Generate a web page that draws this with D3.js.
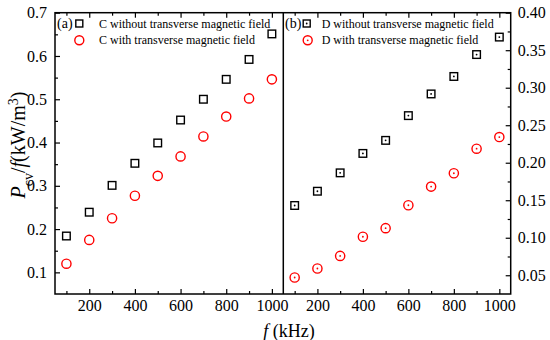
<!DOCTYPE html>
<html>
<head>
<meta charset="utf-8">
<script src="https://cdn.jsdelivr.net/npm/d3@7"></script>
<style>
  html, body { margin: 0; padding: 0; background: #fff; }
  svg { display: block; }
</style>
</head>
<body>
<div id="chart"></div>
<script>
// --- DATA ---
const freqs = [100, 200, 300, 400, 500, 600, 700, 800, 900, 1000];
const cWithout = [0.184, 0.239, 0.301, 0.352, 0.399, 0.452, 0.500, 0.546, 0.592, 0.651];
const cWith = [0.120, 0.175, 0.225, 0.277, 0.323, 0.368, 0.414, 0.460, 0.502, 0.546];
const dWithout = [0.143, 0.162, 0.1865, 0.2124, 0.2298, 0.2628, 0.2917, 0.315, 0.3442, 0.3675];
const dWith = [0.047, 0.059, 0.0758, 0.1013, 0.1128, 0.1433, 0.1682, 0.1860, 0.2187, 0.2342];

const xTicks = [200, 400, 600, 800, 1000];
const xMinor = [100, 300, 500, 700, 900];
const yLeftTicks = [0.1, 0.2, 0.3, 0.4, 0.5, 0.6, 0.7];
const yLeftMinor = [0.15, 0.25, 0.35, 0.45, 0.55, 0.65];
const yRightTicks = [0.05, 0.10, 0.15, 0.20, 0.25, 0.30, 0.35, 0.40];
const yRightMinor = [0.075, 0.125, 0.175, 0.225, 0.275, 0.325, 0.375];

// --- LAYOUT ---
const W = 550, H = 340;
const TOP = 12.7, BOTTOM = 294;
const L0 = 55, MID = 283.3, R1 = 510.7;

const svg = d3.select("#chart").append("svg")
  .attr("width", W).attr("height", H);

const xL = d3.scaleLinear().domain([50, 1050]).range([L0, MID]);
const xR = d3.scaleLinear().domain([50, 1050]).range([MID, R1]);
const yL = d3.scaleLinear().domain([0.05, 0.7]).range([BOTTOM, TOP]);
const yR = d3.scaleLinear().domain([0.025, 0.40]).range([BOTTOM, TOP]);

function styleAxis(g, labels) {
  g.attr("font-size", 16);
  g.select(".domain").remove();
  g.selectAll(".tick line").attr("stroke", "#000").attr("stroke-width", 1.2);
  g.selectAll("text").attr("fill", "#000");
  if (!labels) g.selectAll("text").remove();
}

function xAxes(x) {
  svg.append("g").attr("transform", `translate(0,${BOTTOM})`)
    .call(d3.axisBottom(x).tickValues(xTicks).tickSize(-5).tickPadding(6).tickFormat(d3.format("d")))
    .call(g => styleAxis(g, true));
  svg.append("g").attr("transform", `translate(0,${BOTTOM})`)
    .call(d3.axisBottom(x).tickValues(xMinor).tickSize(-3))
    .call(g => styleAxis(g, false));
  svg.append("g").attr("transform", `translate(0,${TOP})`)
    .call(d3.axisTop(x).tickValues(xTicks).tickSize(-5))
    .call(g => styleAxis(g, false));
  svg.append("g").attr("transform", `translate(0,${TOP})`)
    .call(d3.axisTop(x).tickValues(xMinor).tickSize(-3))
    .call(g => styleAxis(g, false));
}
xAxes(xL);
xAxes(xR);

svg.append("g").attr("transform", `translate(${L0},0)`)
  .call(d3.axisLeft(yL).tickValues(yLeftTicks).tickSize(-5).tickPadding(8).tickFormat(d3.format(".1f")))
  .call(g => styleAxis(g, true));
svg.append("g").attr("transform", `translate(${L0},0)`)
  .call(d3.axisLeft(yL).tickValues(yLeftMinor).tickSize(-3))
  .call(g => styleAxis(g, false));

svg.append("g").attr("transform", `translate(${R1},0)`)
  .call(d3.axisRight(yR).tickValues(yRightTicks).tickSize(-5).tickPadding(7).tickFormat(d3.format(".2f")))
  .call(g => styleAxis(g, true));
svg.append("g").attr("transform", `translate(${R1},0)`)
  .call(d3.axisRight(yR).tickValues(yRightMinor).tickSize(-3))
  .call(g => styleAxis(g, false));

// frame
svg.append("rect")
  .attr("x", L0).attr("y", TOP).attr("width", R1 - L0).attr("height", BOTTOM - TOP)
  .attr("fill", "none").attr("stroke", "#000").attr("stroke-width", 1.5);
svg.append("line")
  .attr("x1", MID).attr("x2", MID).attr("y1", TOP).attr("y2", BOTTOM)
  .attr("stroke", "#000").attr("stroke-width", 1.5);

// --- MARKERS ---
function squares(x, y, vals, dot) {
  const g = svg.append("g");
  g.selectAll("rect").data(vals).join("rect")
    .attr("x", (d, i) => x(freqs[i]) - 3.8)
    .attr("y", d => y(d) - 3.8)
    .attr("width", 7.6).attr("height", 7.6)
    .attr("fill", "none").attr("stroke", "#000").attr("stroke-width", 1.4);
  if (dot) {
    g.selectAll("circle").data(vals).join("circle")
      .attr("cx", (d, i) => x(freqs[i])).attr("cy", d => y(d))
      .attr("r", 0.9).attr("fill", "#000");
  }
}
function circles(x, y, vals, dot) {
  const g = svg.append("g");
  g.selectAll("circle.m").data(vals).join("circle")
    .attr("class", "m")
    .attr("cx", (d, i) => x(freqs[i])).attr("cy", d => y(d))
    .attr("r", 4.6)
    .attr("fill", "none").attr("stroke", "#ff0000").attr("stroke-width", 1.4);
  if (dot) {
    g.selectAll("circle.d").data(vals).join("circle")
      .attr("class", "d")
      .attr("cx", (d, i) => x(freqs[i])).attr("cy", d => y(d))
      .attr("r", 0.9).attr("fill", "#ff0000");
  }
}
squares(xL, yL, cWithout, false);
circles(xL, yL, cWith, false);
squares(xR, yR, dWithout, true);
circles(xR, yR, dWith, true);

// --- LEGENDS ---
function legend(x0, tag, sx, tx, names, dot) {
  svg.append("text").attr("x", x0).attr("y", 27.5).text(tag)
    .attr("font-size", 14).attr("fill", "#000");
  const rows = [23.5, 40.3];
  svg.append("rect").attr("x", sx - 3.5).attr("y", rows[0] - 3.5).attr("width", 7).attr("height", 7)
    .attr("fill", "none").attr("stroke", "#000").attr("stroke-width", 1.4);
  svg.append("circle").attr("cx", sx + (dot ? 1 : 0)).attr("cy", rows[1]).attr("r", 4.5)
    .attr("fill", "none").attr("stroke", "#ff0000").attr("stroke-width", 1.4);
  if (dot) {
    svg.append("circle").attr("cx", sx).attr("cy", rows[0]).attr("r", 0.9).attr("fill", "#000");
    svg.append("circle").attr("cx", sx + 1).attr("cy", rows[1]).attr("r", 0.9).attr("fill", "#ff0000");
  }
  names.forEach((n, i) => {
    svg.append("text").attr("x", tx).attr("y", rows[i] + 4).text(n)
      .attr("font-size", 12).attr("fill", "#000");
  });
}
legend(57, "(a)", 79.3, 99, ["C without transverse magnetic field", "C with transverse magnetic field"], false);
legend(285, "(b)", 306.7, 321.7, ["D without transverse magnetic field", "D with transverse magnetic field"], true);

// --- AXIS TITLES ---
const yTitle = svg.append("text")
  .attr("transform", "translate(25,145) rotate(-90)")
  .attr("text-anchor", "middle")
  .attr("font-size", 20).attr("fill", "#000");
yTitle.append("tspan").attr("font-style", "italic").text("P");
yTitle.append("tspan").attr("baseline-shift", "sub").attr("font-size", 14).text("cv");
yTitle.append("tspan").text("/");
yTitle.append("tspan").attr("font-style", "italic").text("f");
yTitle.append("tspan").text("(kW/m");
yTitle.append("tspan").attr("baseline-shift", "super").attr("font-size", 14).text("3");
yTitle.append("tspan").text(")");

const xTitle = svg.append("text")
  .attr("x", 289).attr("y", 337)
  .attr("text-anchor", "middle")
  .attr("font-size", 18).attr("fill", "#000");
xTitle.append("tspan").attr("font-style", "italic").text("f");
xTitle.append("tspan").text(" (kHz)");

// serif everywhere, overriding d3's axis default
svg.selectAll("text").style("font-family", "Liberation Serif");
</script>
</body>
</html>
